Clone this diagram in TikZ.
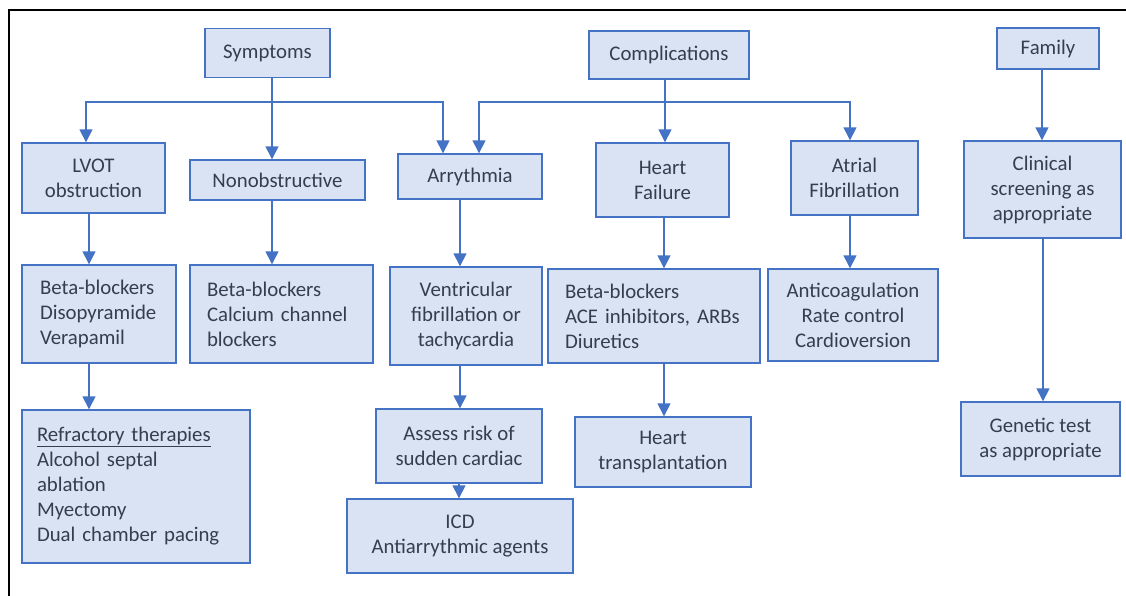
\documentclass[tikz,border=0pt]{standalone}
\usepackage{fontspec}
\setmainfont{Carlito}
\usetikzlibrary{arrows.meta}
\definecolor{boxfill}{HTML}{DAE3F3}
\definecolor{boxline}{HTML}{4472C4}
\definecolor{boxtext}{HTML}{343E4E}
\begin{document}
\begin{tikzpicture}[x=1pt,y=-1pt,
  box/.style={draw=boxline, fill=boxfill, line width=1.4pt, text=boxtext,
    inner sep=0pt, align=center, font=\fontsize{20.8}{25}\selectfont},
  lbox/.style={box, align=left},
  link/.style={draw=boxline, line width=1.5pt},
  arr/.style={link, -{Triangle[width=13pt,length=13pt]}}]
\useasboundingbox (0,0) rectangle (1126,596);
% outer frame
\draw[line width=1.5pt] (9,596) -- (9,10) -- (1126,10);

% top level
\node[box, minimum width=125, minimum height=49] (sym) at (267.5,53) {Symptoms};
\node[box, minimum width=160, minimum height=48] (comp) at (669,55) {Complications};
\node[box, minimum width=102, minimum height=41] (fam) at (1048,48.5) {Family};

% second level
\node[box, minimum width=143, minimum height=70] (lvot) at (93.5,178) {LVOT\\obstruction};
\node[box, minimum width=175, minimum height=40] (nonob) at (277.5,180) {Nonobstructive};
\node[box, minimum width=144, minimum height=45] (arry) at (470,176.5) {Arrythmia};
\node[box, minimum width=133, minimum height=74] (hf) at (662.5,180) {Heart\\Failure};
\node[box, minimum width=127, minimum height=74] (af) at (854.5,178) {Atrial\\Fibrillation};
\node[box, minimum width=157, minimum height=97] (clin) at (1042.5,189.5) {Clinical\\screening as\\appropriate};

% treatments
\node[lbox, text width=118, minimum width=154, minimum height=98] (bb1) at (99,314) {Beta-blockers\\Disopyramide\\Verapamil};
\node[lbox, text width=149, minimum width=183, minimum height=98] (bb2) at (281.5,314) {Beta-blockers\\Calcium channel\\blockers};
\node[box, minimum width=152, minimum height=98] (vf) at (466,316) {Ventricular\\fibrillation or\\tachycardia};
\node[lbox, text width=178, minimum width=212, minimum height=94] (bb3) at (654,316) {Beta-blockers\\ACE inhibitors, ARBs\\Diuretics};
\node[box, minimum width=170, minimum height=92] (anti) at (853,315) {Anticoagulation\\Rate control\\Cardioversion};
\node[box, minimum width=159, minimum height=74] (gen) at (1040.5,439) {Genetic test\\as appropriate};

% third level
\node[lbox, text width=198, minimum width=228, minimum height=153] (refr) at (136,486.5) {\underline{Refractory therapies}\\Alcohol septal\\ablation\\Myectomy\\Dual chamber pacing};
\node[box, minimum width=166, minimum height=74] (risk) at (459,446) {Assess risk of\\sudden cardiac};
\node[box, minimum width=226, minimum height=74] (icd) at (460,536) {ICD\\Antiarrythmic agents};
\node[box, minimum width=176, minimum height=70] (htx) at (663,452) {Heart\\transplantation};

% bus junctions
\coordinate (jS) at (272,102);
\coordinate (jC) at (665,102);

% symptoms branch
\draw[link] (sym.south -| jS) -- (jS);
\draw[arr] (jS) -- (nonob.north -| jS);
\draw[arr] (jS) -| (lvot.north -| 86,0);
\draw[arr] (jS) -| (arry.north -| 443,0);

% complications branch
\draw[link] (comp.south -| jC) -- (jC);
\draw[arr] (jC) -- (hf.north -| jC);
\draw[arr] (jC) -| (arry.north -| 479,0);
\draw[arr] (jC) -| (af.north -| 850,0);

% family branch
\draw[arr] (fam.south -| 1042,0) -- (clin.north -| 1042,0);
\draw[arr] (clin.south -| 1043,0) -- (gen.north -| 1043,0);

% downward chains
\draw[arr] (lvot.south -| 89,0) -- (bb1.north -| 89,0);
\draw[arr] (nonob.south -| 272,0) -- (bb2.north -| 272,0);
\draw[arr] (arry.south -| 460,0) -- (vf.north -| 460,0);
\draw[arr] (hf.south -| 664,0) -- (bb3.north -| 664,0);
\draw[arr] (af.south -| 850,0) -- (anti.north -| 850,0);
\draw[arr] (bb1.south -| 89,0) -- (refr.north -| 89,0);
\draw[arr] (vf.south -| 460,0) -- (risk.north -| 460,0);
\draw[arr] (risk.south -| 459,0) -- (icd.north -| 459,0);
\draw[arr] (bb3.south -| 664,0) -- (htx.north -| 664,0);
\end{tikzpicture}
\end{document}
